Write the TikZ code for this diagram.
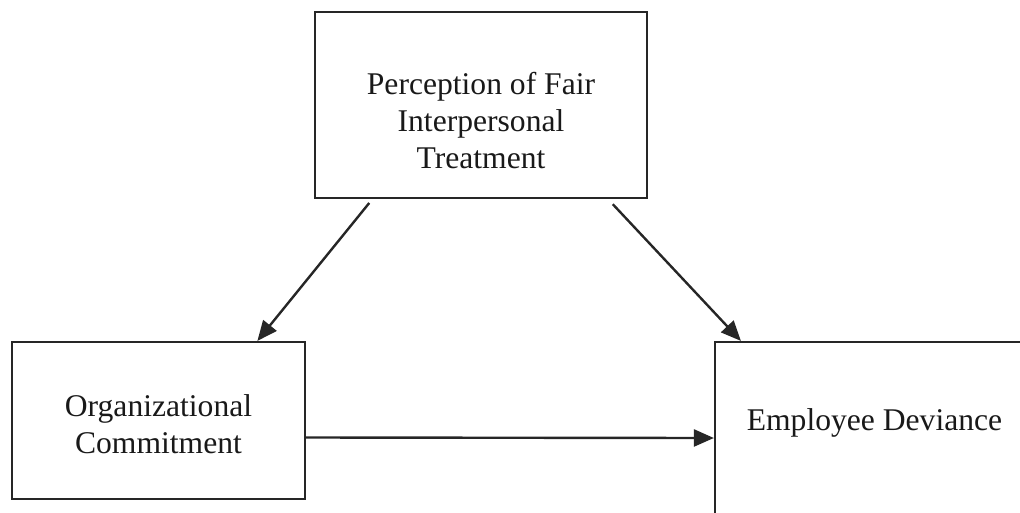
\documentclass[tikz,border=0pt]{standalone}
\usepackage{fontspec}
\setmainfont{Liberation Serif}
\usetikzlibrary{arrows.meta,calc}
\begin{document}
\begin{tikzpicture}[x=1pt,y=-1pt,
  box/.style={draw=black!85,line width=2.2pt,rectangle,inner sep=0pt},
  lbl/.style={align=center,font=\fontsize{31.6}{37}\selectfont,text=black!90,inner sep=0pt},
  conn/.style={draw=black!85,line width=2.4pt,-{Triangle[length=20pt,width=17pt]}}]
\clip (0,0) rectangle (1020,512);
\node[box,minimum width=332pt,minimum height=186pt] (top) at (481,105) {};
\node[box,minimum width=293pt,minimum height=157pt] (oc) at (158.5,420.5) {};
\node[box,minimum width=315pt,minimum height=188pt] (ed) at (872.5,436) {};
\node[lbl] (toptxt) at (481,121) {Perception of Fair\\Interpersonal\\Treatment};
\node[lbl] (octxt) at (158.5,424) {Organizational\\Commitment};
\node[lbl] (edtxt) at (874.5,423) {Employee Deviance};
\draw[conn,shorten <=5pt] ($(top.south west)!0.175!(top.south east)$) -- ($(oc.north west)!0.835!(oc.north east)$);
\draw[conn,shorten <=7pt] ($(top.south west)!0.88!(top.south east)$) -- ($(ed.north west)+(27,0)$);
\draw[conn] ($(oc.east)+(0,17)$) -- ($(ed.west)+(0,2)$);
\end{tikzpicture}
\end{document}
